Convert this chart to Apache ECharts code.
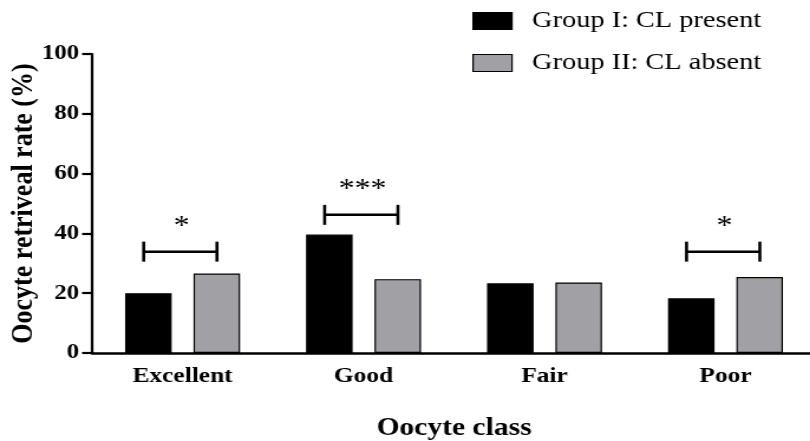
<!DOCTYPE html>
<html>
<head>
<meta charset="utf-8">
<script src="https://cdn.jsdelivr.net/npm/echarts@6/dist/echarts.min.js"></script>
<style>
html,body{margin:0;padding:0;background:#fff;overflow:hidden;}
/* the reference figure is horizontally stretched; reproduce it by stretching the chart */
#chart{width:686px;height:441px;transform:scaleX(1.1808);transform-origin:0 0;}
</style>
</head>
<body>
<div id="chart"></div>
<script>
const categories = ['Excellent', 'Good', 'Fair', 'Poor'];
const groupINames = 'Group I: CL present';
const groupIINames = 'Group II: CL absent';
const groupI = [20.0, 39.6, 23.3, 18.3];
const groupII = [26.6, 24.7, 23.6, 25.4];
const yTicks = { min: 0, max: 100, interval: 20 };
const bracketCats = ['Excellent', 'Good', 'Poor'];
const bracketY = [33.9, 46.2, 33.9];
const bracketLabels = ['*', '***', '*'];

const FONT = '"Liberation Serif", "Times New Roman", serif';
const chart = echarts.init(document.getElementById('chart'), null, { renderer: 'canvas' });

const option = {
  animation: false,
  backgroundColor: '#fff',
  grid: { left: 78, width: 613, top: 54, bottom: 88, containLabel: false, outerBoundsMode: 'none' },
  legend: {
    data: [groupINames, groupIINames],
    orient: 'vertical',
    left: 400,
    top: 9,
    padding: 0,
    icon: 'rect',
    itemWidth: 33,
    itemHeight: 17,
    itemGap: 18,
    itemStyle: { borderColor: '#000', borderWidth: 1.2 },
    textStyle: { fontFamily: FONT, fontSize: 24, color: '#000', lineHeight: 24, padding: [0, 0, 0, 12] }
  },
  xAxis: {
    type: 'category',
    data: categories,
    name: 'Oocyte class',
    nameLocation: 'middle',
    nameGap: 63,
    nameMoveOverlap: false,
    nameTextStyle: { fontFamily: FONT, fontSize: 25, fontWeight: 'bold', color: '#000' },
    axisLine: { lineStyle: { color: '#000', width: 2.5 } },
    axisTick: { alignWithLabel: true, length: 9, lineStyle: { color: '#000', width: 1.8 } },
    axisLabel: { fontFamily: FONT, fontSize: 21.5, fontWeight: 'bold', color: '#000', margin: 12 }
  },
  yAxis: {
    type: 'value',
    min: yTicks.min,
    max: yTicks.max,
    interval: yTicks.interval,
    name: 'Oocyte retriveal rate (%)',
    nameLocation: 'middle',
    nameGap: 45,
    nameMoveOverlap: false,
    nameTextStyle: { fontFamily: FONT, fontSize: 26, fontWeight: 'bold', color: '#000' },
    splitLine: { show: false },
    axisLine: { show: true, lineStyle: { color: '#000', width: 2.2 } },
    axisTick: { show: true, length: 8.5, lineStyle: { color: '#000', width: 2.2 } },
    axisLabel: { fontFamily: FONT, fontSize: 21, fontWeight: 'bold', color: '#000', margin: 11 }
  },
  series: [
    {
      name: groupINames,
      type: 'bar',
      data: groupI,
      barWidth: 39.4,
      barGap: '47%',
      itemStyle: { color: '#000000', borderColor: '#000', borderWidth: 1.2 }
    },
    {
      name: groupIINames,
      type: 'bar',
      data: groupII,
      barWidth: 39.4,
      barGap: '47%',
      itemStyle: { color: '#a1a0a5', borderColor: '#000', borderWidth: 1.2 }
    },
    {
      name: 'significance',
      type: 'custom',
      silent: true,
      z: 5,
      data: bracketCats.map((c, i) => [c, bracketY[i]]),
      renderItem: function (params, api) {
        const p = api.coord([api.value(0), api.value(1)]);
        const band = api.size([1, 0])[0];
        const x1 = p[0] - band * 0.215;
        const x2 = p[0] + band * 0.19;
        const cap = 10;
        const label = bracketLabels[params.dataIndex];
        return {
          type: 'group',
          children: [
            { type: 'line', shape: { x1: x1, y1: p[1], x2: x2, y2: p[1] }, style: { stroke: '#000', lineWidth: 2.5 } },
            { type: 'line', shape: { x1: x1, y1: p[1] - cap, x2: x1, y2: p[1] + cap }, style: { stroke: '#000', lineWidth: 2.6 } },
            { type: 'line', shape: { x1: x2, y1: p[1] - cap, x2: x2, y2: p[1] + cap }, style: { stroke: '#000', lineWidth: 2.6 } },
            { type: 'text', x: (x1 + x2) / 2 + 1, y: p[1] - 25,
              style: { text: label, fontFamily: FONT, fontSize: 27, fill: '#000', align: 'center', verticalAlign: 'middle' } }
          ]
        };
      }
    }
  ]
};
chart.setOption(option);
</script>
</body>
</html>
